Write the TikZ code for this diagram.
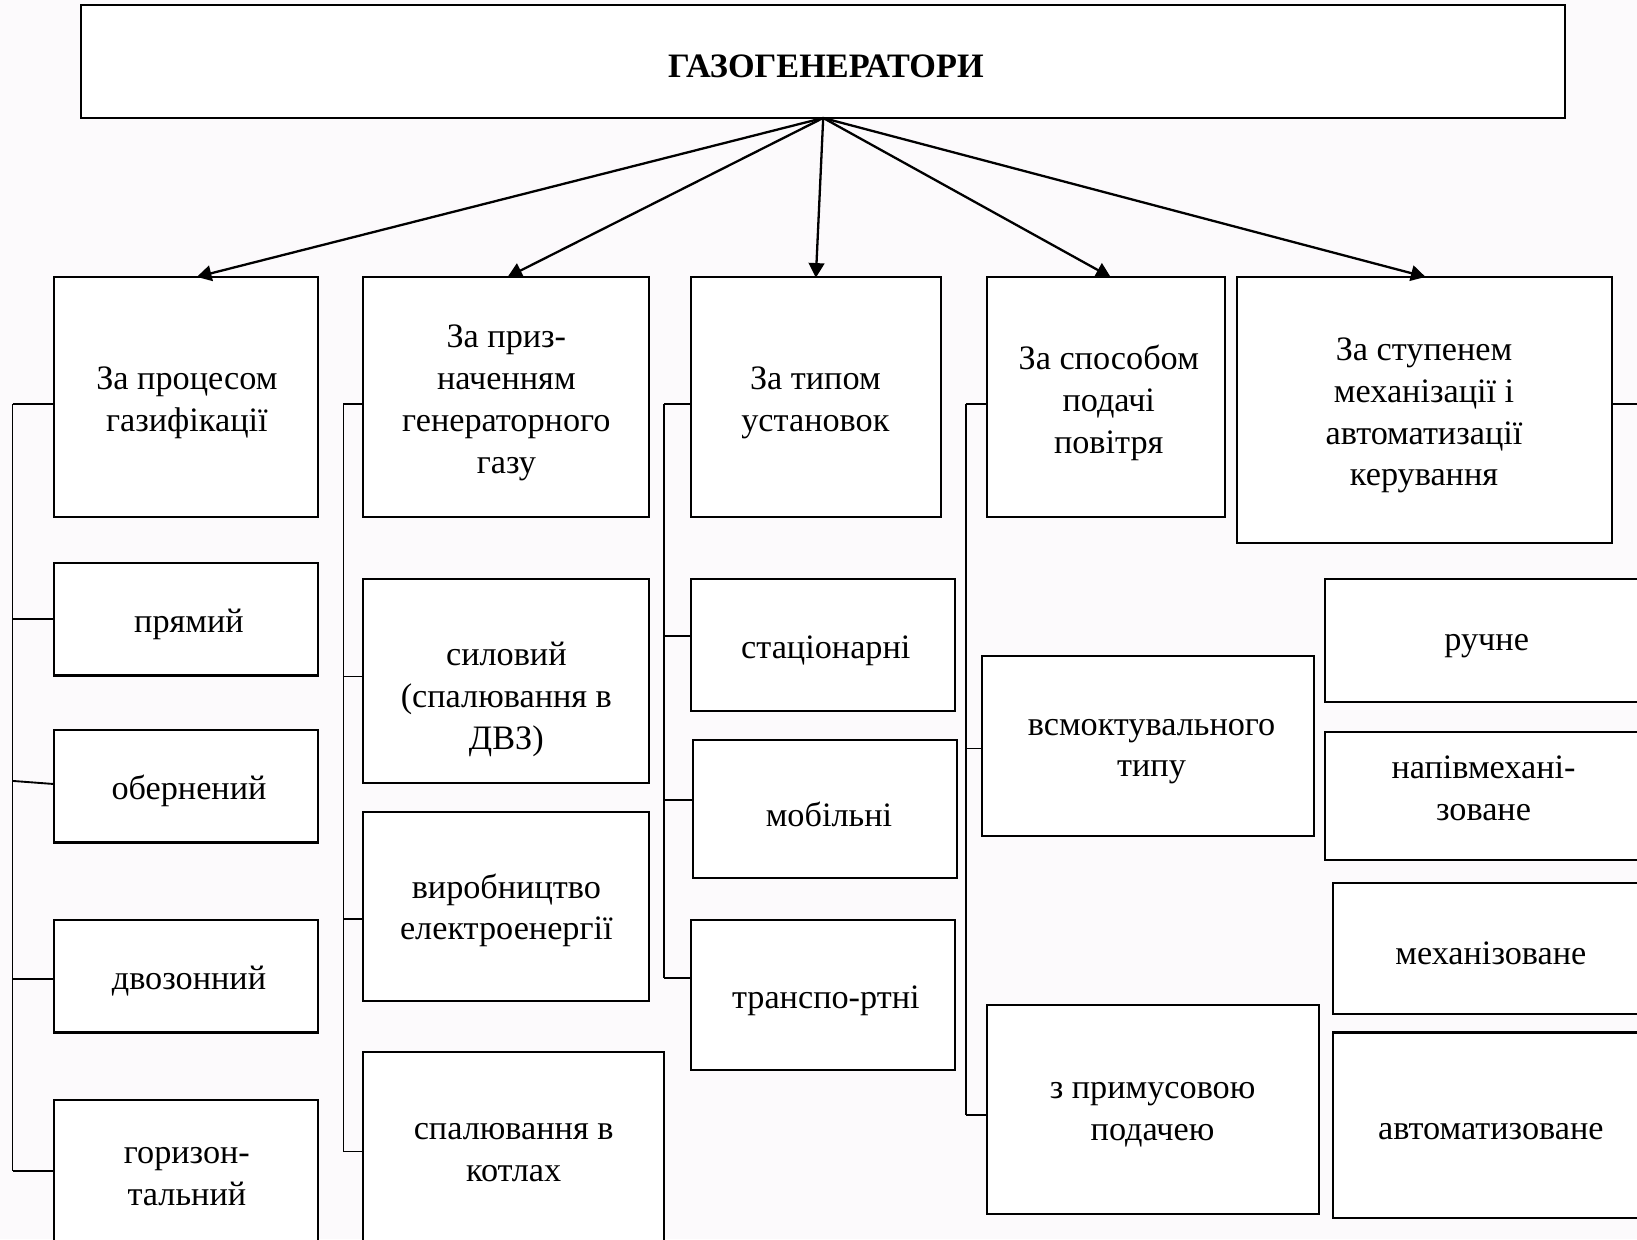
\documentclass[tikz,border=0pt]{standalone}
\usepackage{fontspec}
\setmainfont{Liberation Serif}
\usetikzlibrary{arrows.meta}
\definecolor{bgc}{RGB}{252,250,252}
\tikzset{
  box/.style={draw=black, fill=white, line width=1pt, inner sep=0pt, outer sep=0pt},
  txt/.style={align=center, inner sep=0pt, yshift=-1.5pt, font=\fontsize{16.4}{20}\selectfont},
  bus/.style={line width=0.9pt},
  arr/.style={line width=1.1pt, -{Triangle[length=7pt,width=7.5pt]}, shorten >=-0.5pt}
}
\newcommand\bx[8]{%
  \node[box, minimum width={(#4-#2)*0.5pt}, minimum height={(#5-#3)*0.5pt}] (#1) at ({(#2+#4)/2},{(#3+#5)/2}) {};
  \node[txt] (#1-t) at (#6,#7) {#8};%
}
\begin{document}
\begin{tikzpicture}[x=0.5pt,y=-0.5pt]
\clip (0,0) rectangle (1568,1187);
\fill[bgc] (0,0) rectangle (1568,1187);
% title
\node[box, minimum width={1421*0.5pt}, minimum height={108*0.5pt}] (top) at (788.5,59) {};
\node[txt, font=\fontsize{16.4}{20}\selectfont\bfseries] (top-t) at (791,61) {ГАЗОГЕНЕРАТОРИ};
% level 1
\bx{b1}{52}{265}{305}{495}{179}{383}{За процесом\\газифікації}
\bx{b2}{348}{265}{622}{495}{485}{383}{За приз-\\наченням\\генераторного\\газу}
\bx{b3}{662}{265}{901}{495}{781}{383}{За типом\\установок}
\bx{b4}{945}{265}{1173}{495}{1062}{383}{За способом\\подачі\\повітря}
\bx{b5}{1185}{265}{1544}{520}{1364}{395}{За ступенем\\механізації і\\автоматизації\\керування}
% arrows
\draw[arr] (top.south) -- ([xshift=5.5pt]b1.north);
\draw[arr] (top.south) -- ([xshift=1pt]b2.north);
\draw[arr] (top.south) -- (b3.north);
\draw[arr] (top.south) -- ([xshift=2pt]b4.north);
\draw[arr] (top.south) -- (b5.north);
% column 1
\bx{c11}{52}{539}{305}{647}{181}{595}{прямий}
\bx{c12}{52}{699}{305}{807}{181}{755}{обернений}
\bx{c13}{52}{881}{305}{989}{181}{937}{двозонний}
\bx{c14}{52}{1054}{305}{1200}{179}{1124}{горизон-\\тальний}
% column 2
\bx{c21}{348}{555}{622}{750}{485}{667}{силовий\\(спалювання в\\ДВЗ)}
\bx{c22}{348}{778}{622}{959}{485}{869}{виробництво\\електроенергії}
\bx{c23}{348}{1008}{636}{1200}{492}{1101}{спалювання в\\котлах}
% column 3
\bx{c31}{662}{555}{915}{681}{791}{620}{стаціонарні}
\bx{c32}{664}{709}{917}{841}{794}{777}{мобільні}
\bx{c33}{662}{881}{915}{1025}{791}{956}{транспо-ртні}
% column 4
\bx{c41}{941}{628}{1259}{801}{1103}{717}{всмоктувального\\типу}
\bx{c42}{945}{963}{1263}{1163}{1104}{1065}{з примусовою\\подачею}
% column 5
\bx{c51}{1269}{555}{1590}{672}{1424}{616}{ручне}
\bx{c52}{1269}{701}{1590}{824}{1421}{752}{напівмехані-\\зоване}
\bx{c53}{1277}{846}{1590}{971}{1428}{910}{механізоване}
\bx{c54}{1277}{989}{1590}{1167}{1428}{1081}{автоматизоване}
% buses
\coordinate (k1a) at (12,387);
\coordinate (k1b) at (12,593);
\coordinate (k1c) at (12,748);
\coordinate (k1d) at (12,938);
\coordinate (k1e) at (12,1122);
\draw[bus] (k1a) -- (k1e);
\draw[bus] (k1a) -- (k1a -| b1.west);
\draw[bus] (k1b) -- (k1b -| c11.west);
\draw[bus] (k1c) -- ([yshift=-1.5pt]k1c -| c12.west);
\draw[bus] (k1d) -- (k1d -| c13.west);
\draw[bus] (k1e) -- (k1e -| c14.west);
\coordinate (k2a) at (329,387);
\coordinate (k2b) at (329,648);
\coordinate (k2c) at (329,880);
\coordinate (k2d) at (329,1103);
\draw[bus] (k2a) -- (k2d);
\draw[bus] (k2a) -- (k2a -| b2.west);
\draw[bus] (k2b) -- (k2b -| c21.west);
\draw[bus] (k2c) -- (k2c -| c22.west);
\draw[bus] (k2d) -- (k2d -| c23.west);
\coordinate (k3a) at (636,387);
\coordinate (k3b) at (636,609);
\coordinate (k3c) at (636,766);
\coordinate (k3d) at (636,937);
\draw[bus] (k3a) -- (k3d);
\draw[bus] (k3a) -- (k3a -| b3.west);
\draw[bus] (k3b) -- (k3b -| c31.west);
\draw[bus] (k3c) -- (k3c -| c32.west);
\draw[bus] (k3d) -- (k3d -| c33.west);
\coordinate (k4a) at (925,387);
\coordinate (k4b) at (925,717);
\coordinate (k4c) at (925,1068);
\draw[bus] (k4a) -- (k4c);
\draw[bus] (k4a) -- (k4a -| b4.west);
\draw[bus] (k4b) -- (k4b -| c41.west);
\draw[bus] (k4c) -- (k4c -| c42.west);
\coordinate (k5) at (1580,387);
\draw[bus] (k5 -| b5.east) -- (k5);
\end{tikzpicture}
\end{document}
